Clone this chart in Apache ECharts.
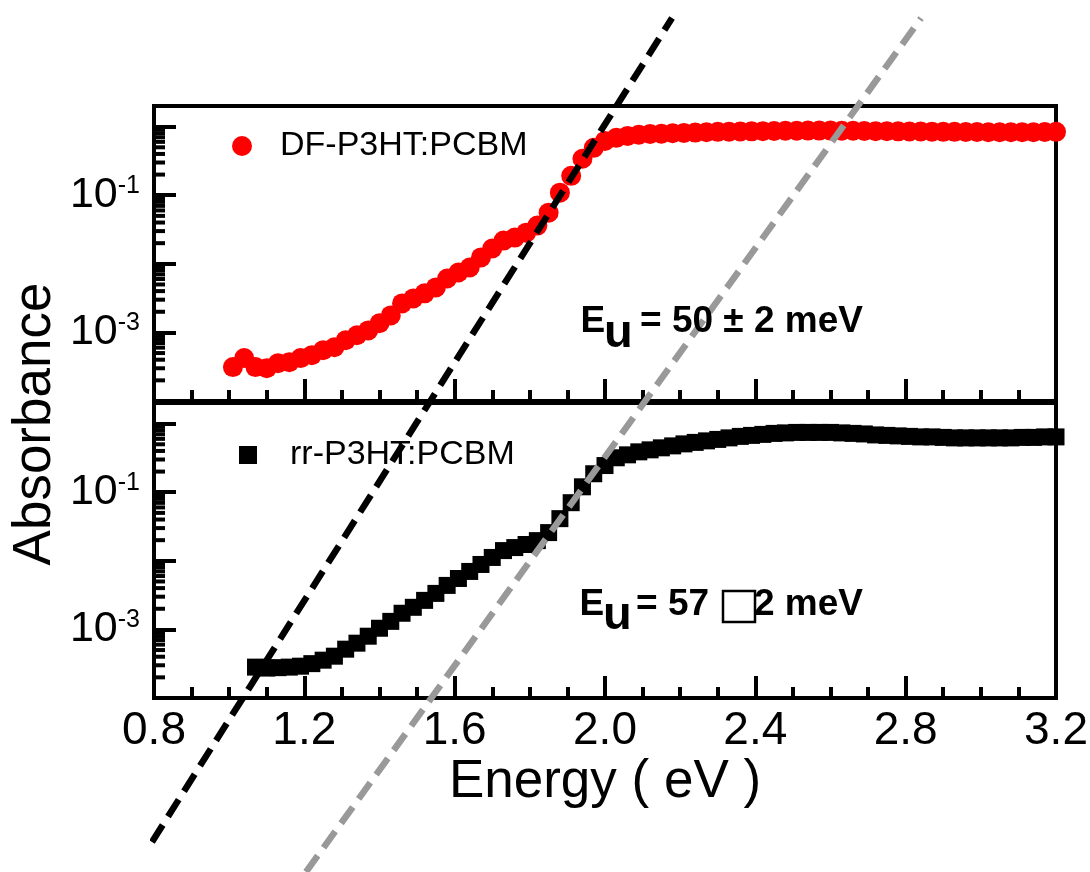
<!DOCTYPE html>
<html>
<head>
<meta charset="utf-8">
<script src="https://cdn.jsdelivr.net/npm/echarts@6/dist/echarts.min.js"></script>
<style>
html,body{margin:0;padding:0;background:#ffffff;}
#chart{width:1090px;height:872px;}
</style>
</head>
<body>
<div id="chart"></div>
<script>
// ---------- data ----------
const energyDF = [1.01,1.04,1.07,1.10,1.13,1.16,1.19,1.22,1.25,1.28,1.31,1.34,1.37,1.40,1.43,1.46,1.49,1.52,1.55,1.58,
  1.61,1.64,1.67,1.70,1.73,1.76,1.79,1.82,1.85,1.88,1.91,1.94,1.97,2.00,2.03,2.06,2.09,2.12,2.15,2.18,
  2.21,2.24,2.27,2.30,2.33,2.36,2.39,2.42,2.45,2.48,2.51,2.54,2.57,2.60,2.63,2.66,2.69,2.72,2.75,2.78,
  2.81,2.84,2.87,2.90,2.93,2.96,2.99,3.02,3.05,3.08,3.11,3.14,3.17,3.20];
const absorbDF = [3.12e-4,4.22e-4,3.12e-4,3.01e-4,3.56e-4,3.68e-4,4.22e-4,4.66e-4,5.51e-4,6.08e-4,
  7.69e-4,9.10e-4,1.07e-3,1.36e-3,1.77e-3,2.65e-3,3.13e-3,3.71e-3,4.53e-3,6.12e-3,
  7.48e-3,8.85e-3,1.24e-2,1.67e-2,2.18e-2,2.41e-2,2.85e-2,3.61e-2,5.57e-2,0.109,
  0.192,0.340,0.491,0.619,0.686,0.733,0.765,0.780,0.790,0.800,
  0.810,0.820,0.830,0.840,0.845,0.850,0.855,0.860,0.865,0.870,
  0.870,0.875,0.875,0.875,0.870,0.870,0.865,0.860,0.860,0.855,
  0.850,0.850,0.845,0.840,0.840,0.835,0.835,0.830,0.830,0.830,
  0.830,0.830,0.835,0.840];

const energyRR = [1.07,1.10,1.13,1.16,1.19,1.22,1.25,1.28,1.31,1.34,1.37,1.40,1.43,1.46,1.49,1.52,1.55,1.58,1.61,1.64,
  1.67,1.70,1.73,1.76,1.79,1.82,1.85,1.88,1.91,1.94,1.97,2.00,2.03,2.06,2.09,2.12,2.15,2.18,2.21,2.24,
  2.27,2.30,2.33,2.36,2.39,2.42,2.45,2.48,2.51,2.54,2.57,2.60,2.63,2.66,2.69,2.72,2.75,2.78,2.81,2.84,
  2.87,2.90,2.93,2.96,2.99,3.02,3.05,3.08,3.11,3.14,3.17,3.20];
const absorbRR = [2.82e-4,2.73e-4,2.77e-4,2.82e-4,2.91e-4,3.17e-4,3.56e-4,4.07e-4,5.15e-4,6.30e-4,
  7.96e-4,1.04e-3,1.31e-3,1.72e-3,2.10e-3,2.65e-3,3.35e-3,4.38e-3,5.53e-3,7.00e-3,
  8.85e-3,1.12e-2,1.41e-2,1.56e-2,1.73e-2,1.97e-2,2.58e-2,4.12e-2,7.04e-2,0.120,
  0.186,0.245,0.318,0.351,0.388,0.415,0.444,0.474,0.507,0.533,
  0.561,0.589,0.620,0.652,0.674,0.697,0.721,0.733,0.745,0.745,
  0.745,0.745,0.733,0.721,0.708,0.685,0.674,0.663,0.652,0.641,
  0.641,0.630,0.620,0.620,0.620,0.620,0.620,0.620,0.630,0.630,
  0.641,0.641];

// Urbach-tail fit lines (two end points each, energy / absorbance)
const fitEnergyDF = [0.7947, 2.1784];
const fitAbsorbDF = [3.73e-11, 38.3];
const fitEnergyRR = [1.2045, 2.8410];
const fitAbsorbRR = [2.91e-7, 8.18e5];

// axis ticks / labels
const xMajorTicks = [0.8, 1.2, 1.6, 2.0, 2.4, 2.8, 3.2];
const yDecades = [1e-4, 1e-3, 1e-2, 1e-1, 1];
const yMinorMultipliers = [2, 3, 4, 5, 6, 7, 8, 9];
const yLabelExponents = [-1, -3];

const seriesNames = ['DF-P3HT:PCBM', 'rr-P3HT:PCBM'];
const axisTitles = {x: 'Energy ( eV )', y: 'Absorbance'};
const annotationTop = {sub: 'u', main: '= 50 \u00B1 2 meV'};
const annotationBottom = {sub: 'u', before: '= 57', after: '2 meV'};

// ---------- helpers ----------
const FONT = '"Liberation Sans", Arial, Helvetica, sans-serif';
const Y_MIN = 1e-4, Y_MAX = 2;

const minorYTicks = [];
yDecades.forEach(d => yMinorMultipliers.forEach(m => {
  const v = d * m;
  if (v <= Y_MAX * 1.0001) minorYTicks.push(v);
}));

function xAxisCfg(gridIndex, withLabels) {
  return {
    type: 'value', gridIndex: gridIndex,
    min: xMajorTicks[0], max: xMajorTicks[xMajorTicks.length - 1], interval: 0.4,
    axisLine: {show: true, onZero: false, lineStyle: {color: '#000', width: 4}},
    axisTick: {show: true, inside: true, length: 22, lineStyle: {color: '#000', width: 4}},
    minorTick: {show: true, splitNumber: 4, length: 11, lineStyle: {color: '#000', width: 4}},
    splitLine: {show: false}, minorSplitLine: {show: false},
    axisLabel: {show: withLabels, color: '#000', fontFamily: FONT, fontSize: 46, margin: 10,
      formatter: v => Number(v).toFixed(1)}
  };
}

function yAxisCfg(gridIndex) {
  return {
    type: 'log', logBase: 10, gridIndex: gridIndex, min: Y_MIN, max: Y_MAX,
    axisLine: {show: true, onZero: false, lineStyle: {color: '#000', width: 4}},
    axisTick: {show: true, inside: true, length: 22, lineStyle: {color: '#000', width: 4}},
    splitLine: {show: false},
    axisLabel: {
      show: true, margin: 14,
      formatter: v => {
        const lg = Math.log10(v);
        const e = Math.round(lg);
        if (Math.abs(lg - e) > 1e-6) return '';
        return yLabelExponents.indexOf(e) >= 0 ? '{b|10}{s|' + e + '}' : '';
      },
      rich: {
        b: {fontSize: 43, fontFamily: FONT, color: '#000'},
        s: {fontSize: 25, fontFamily: FONT, color: '#000', verticalAlign: 'top'}
      }
    }
  };
}

function minorTickSeries(idx) {
  return {
    type: 'custom', xAxisIndex: idx, yAxisIndex: idx, silent: true, z: 3, clip: false,
    data: minorYTicks.map(v => [xMajorTicks[0], v]),
    renderItem: (params, api) => {
      const p = api.coord([api.value(0), api.value(1)]);
      return {type: 'line', shape: {x1: p[0], y1: p[1], x2: p[0] + 11, y2: p[1]},
        style: {stroke: '#000', lineWidth: 4}};
    }
  };
}

function zip(a, b) { return a.map((x, i) => [x, b[i]]); }

const gridCommon = {left: 154, width: 902, height: 295, show: true, borderColor: '#000', borderWidth: 4,
  backgroundColor: 'transparent', containLabel: false, outerBoundsMode: 'none'};

function txt(x, y, text, size, bold, align) {
  return {type: 'text', x: x, y: y, z: 20, silent: true,
    style: {text: text, fill: '#000', font: (bold ? 'bold ' : '') + size + 'px ' + FONT,
      align: align || 'left', verticalAlign: 'middle',
      textAlign: align || 'left', textVerticalAlign: 'middle'}};
}

const option = {
  animation: false,
  backgroundColor: '#ffffff',
  grid: [
    Object.assign({top: 106}, gridCommon),
    Object.assign({top: 403}, gridCommon)
  ],
  xAxis: [xAxisCfg(0, false), xAxisCfg(1, true)],
  yAxis: [yAxisCfg(0), yAxisCfg(1)],
  legend: [
    {data: [seriesNames[0]], left: 232, top: 129, padding: 0, itemWidth: 20, itemHeight: 20,
      icon: 'circle', selectedMode: false,
      textStyle: {color: '#000', fontFamily: FONT, fontSize: 34, padding: [0, 0, 0, 23]}},
    {data: [seriesNames[1]], left: 239, top: 438, padding: 0, itemWidth: 18, itemHeight: 18,
      icon: 'rect', selectedMode: false,
      textStyle: {color: '#000', fontFamily: FONT, fontSize: 34, padding: [0, 0, 0, 28]}}
  ],
  series: [
    {name: seriesNames[0], type: 'scatter', xAxisIndex: 0, yAxisIndex: 0,
      symbol: 'circle', symbolSize: 20, itemStyle: {color: '#ff0000', opacity: 1}, z: 2,
      data: zip(energyDF, absorbDF)},
    {name: seriesNames[1], type: 'scatter', xAxisIndex: 1, yAxisIndex: 1,
      symbol: 'rect', symbolSize: 17, itemStyle: {color: '#000000', opacity: 1}, z: 2,
      data: zip(energyRR, absorbRR)},
    minorTickSeries(0),
    minorTickSeries(1),
    {name: 'fit DF', type: 'line', xAxisIndex: 0, yAxisIndex: 0, clip: false, z: 10,
      symbol: 'none', silent: true,
      lineStyle: {color: '#000000', width: 6.5, type: [20, 10]},
      data: zip(fitEnergyDF, fitAbsorbDF)},
    {name: 'fit rr', type: 'line', xAxisIndex: 1, yAxisIndex: 1, clip: false, z: 10,
      symbol: 'none', silent: true,
      lineStyle: {color: '#999999', width: 6.5, type: [20, 10]},
      data: zip(fitEnergyRR, fitAbsorbRR)}
  ],
  graphic: [
    {type: 'text', x: 35, y: 424, rotation: Math.PI / 2, z: 20, silent: true,
      style: {text: axisTitles.y, fill: '#000', font: '53px ' + FONT,
        align: 'center', verticalAlign: 'middle', textAlign: 'center', textVerticalAlign: 'middle'}},
    txt(605, 782, axisTitles.x, 53, false, 'center'),
    txt(580.5, 322.2, 'E', 37, true),
    txt(604, 333.7, annotationTop.sub, 47, true),
    txt(640, 322.2, annotationTop.main, 37, true),
    txt(579.5, 605.2, 'E', 37, true),
    txt(603, 615.7, annotationBottom.sub, 47, true),
    txt(636, 605.2, annotationBottom.before, 37, true),
    {type: 'rect', z: 20, silent: true, shape: {x: 723, y: 591, width: 32, height: 31},
      style: {fill: 'none', stroke: '#000', lineWidth: 2.5}},
    txt(754, 605.2, annotationBottom.after, 37, true)
  ]
};

const chart = echarts.init(document.getElementById('chart'), null, {renderer: 'canvas'});
chart.setOption(option);
</script>
</body>
</html>
